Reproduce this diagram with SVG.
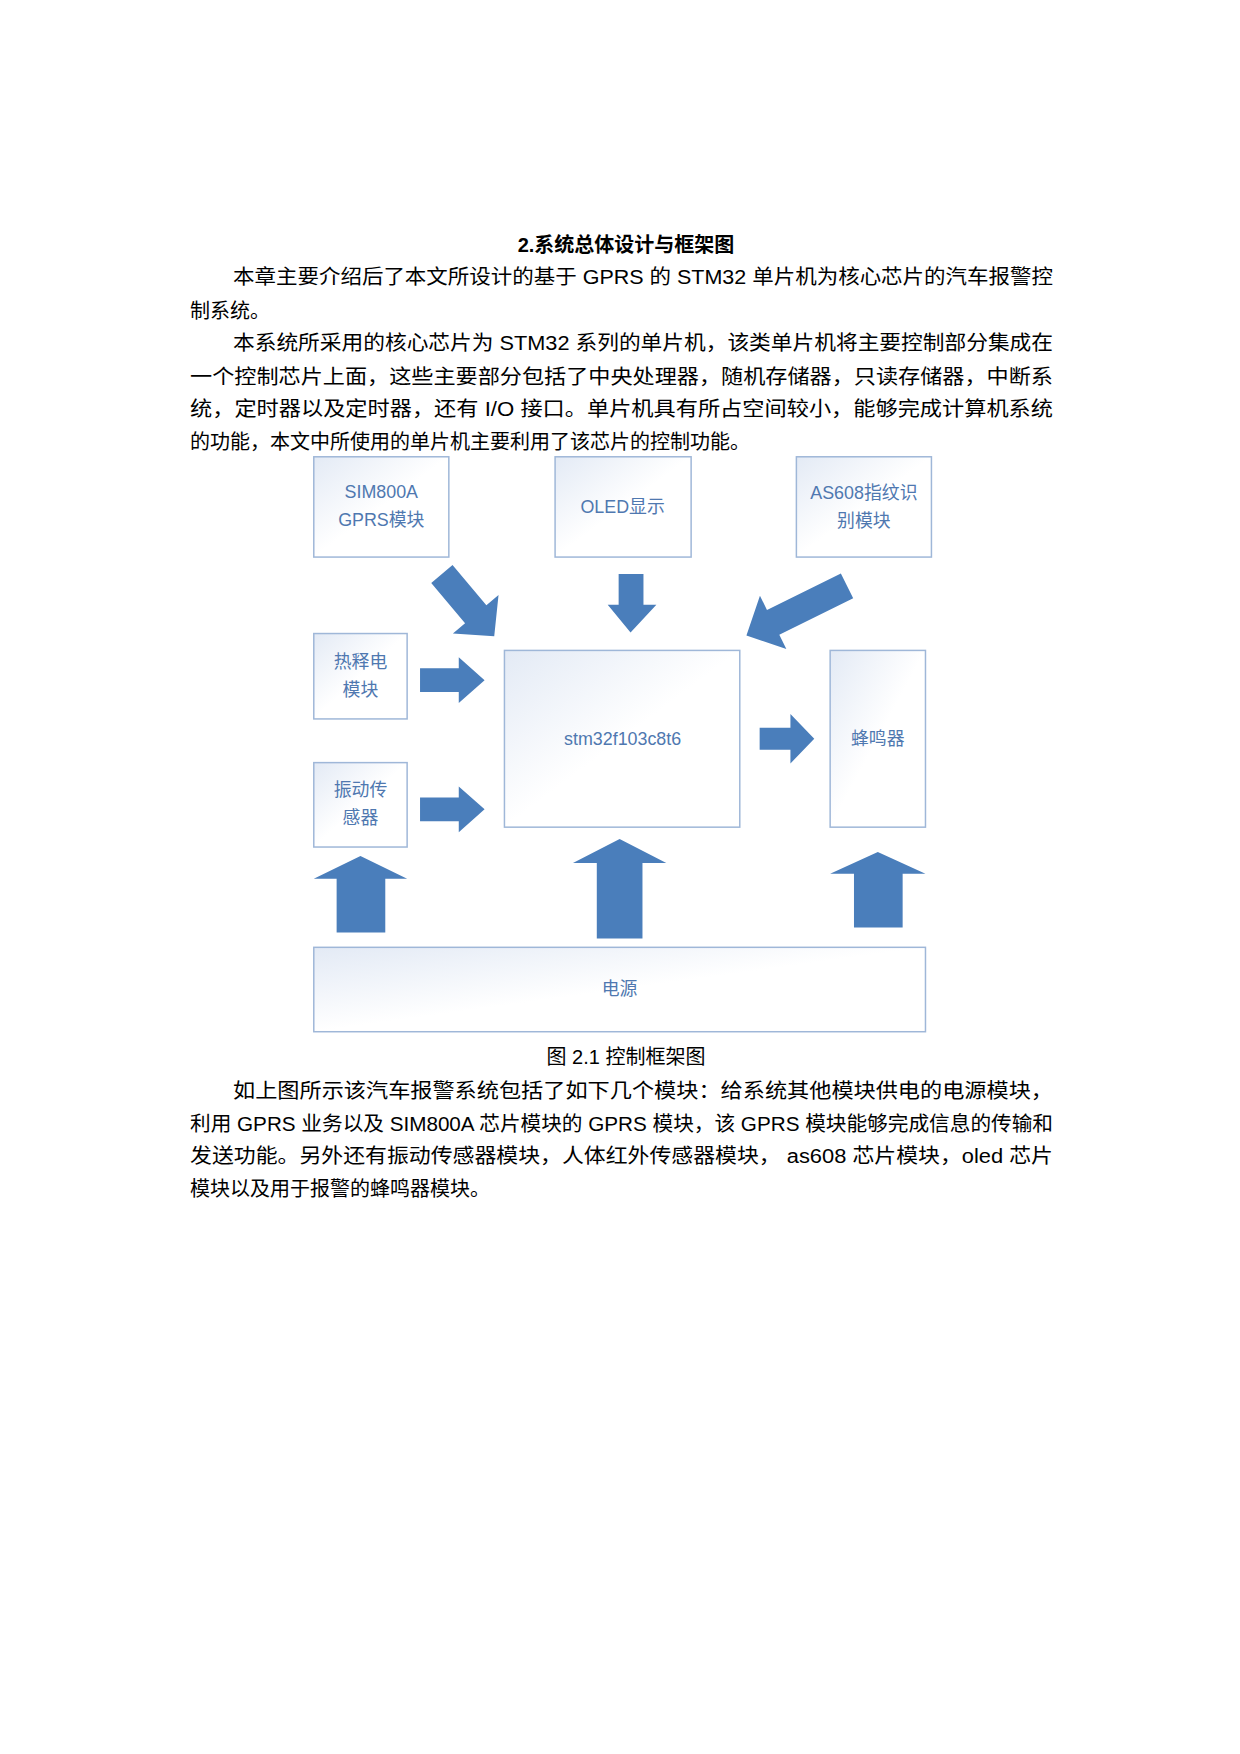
<svg xmlns="http://www.w3.org/2000/svg" width="1240" height="1754" viewBox="0 0 1240 1754">
<defs>
<linearGradient id="g" x1="0" y1="0" x2="1" y2="1"><stop offset="0" stop-color="#e3eaf5"/><stop offset="0.5" stop-color="#ffffff"/><stop offset="1" stop-color="#ffffff"/></linearGradient>
<style>
.t{font-family:"Liberation Sans","Noto Sans CJK SC",sans-serif;font-size:20px;fill:#000}
.b{fill:url(#g);stroke:#9fb7d8;stroke-width:1.5}
.l{font-family:"Liberation Sans","Noto Sans CJK SC",sans-serif;font-size:18px;fill:#4f78b0;text-anchor:middle}
.a{fill:#4a7ebb}
</style>
</defs>
<rect width="1240" height="1754" fill="#fff"/>
<text x="626" y="252" class="t" text-anchor="middle" font-weight="bold">2.系统总体设计与框架图</text>
<g class="t">
<text x="233" y="284" textLength="820" lengthAdjust="spacingAndGlyphs">本章主要介绍后了本文所设计的基于 GPRS 的 STM32 单片机为核心芯片的汽车报警控</text>
<text x="190" y="318">制系统。</text>
<text x="233" y="350" textLength="820" lengthAdjust="spacingAndGlyphs">本系统所采用的核心芯片为 STM32 系列的单片机，该类单片机将主要控制部分集成在</text>
<text x="190" y="384" textLength="863" lengthAdjust="spacingAndGlyphs">一个控制芯片上面，这些主要部分包括了中央处理器，随机存储器，只读存储器，中断系</text>
<text x="190" y="416" textLength="863" lengthAdjust="spacingAndGlyphs">统，定时器以及定时器，还有 I/O 接口。单片机具有所占空间较小，能够完成计算机系统</text>
<text x="190" y="449">的功能，本文中所使用的单片机主要利用了该芯片的控制功能。</text>
<text x="626" y="1064" text-anchor="middle">图 2.1 控制框架图</text>
<text x="233" y="1098" textLength="820" lengthAdjust="spacingAndGlyphs">如上图所示该汽车报警系统包括了如下几个模块：给系统其他模块供电的电源模块，</text>
<text x="190" y="1131" textLength="863" lengthAdjust="spacingAndGlyphs">利用 GPRS 业务以及 SIM800A 芯片模块的 GPRS 模块，该 GPRS 模块能够完成信息的传输和</text>
<text x="190" y="1163" textLength="863" lengthAdjust="spacingAndGlyphs">发送功能。另外还有振动传感器模块，人体红外传感器模块， as608 芯片模块，oled 芯片</text>
<text x="190" y="1196">模块以及用于报警的蜂鸣器模块。</text>
</g>
<g transform="scale(0.993)">
<g id="sim"><rect class="b" x="316" y="460" width="136" height="101"/><text class="l" x="384" y="502">SIM800A</text><text class="l" x="384" y="530">GPRS模块</text></g>
<g id="oled"><rect class="b" x="559" y="460" width="137" height="101"/><text class="l" x="627" y="517">OLED显示</text></g>
<g id="as608"><rect class="b" x="802" y="460" width="136" height="101"/><text class="l" x="870" y="503">AS608指纹识</text><text class="l" x="870" y="531">别模块</text></g>
<g id="pir"><rect class="b" x="316" y="638" width="94" height="86"/><text class="l" x="363" y="673">热释电</text><text class="l" x="363" y="701">模块</text></g>
<g id="vib"><rect class="b" x="316" y="768" width="94" height="85"/><text class="l" x="363" y="802">振动传</text><text class="l" x="363" y="830">感器</text></g>
<g id="mcu"><rect class="b" x="508" y="655" width="237" height="178"/><text class="l" x="627" y="750">stm32f103c8t6</text></g>
<g id="buzzer"><rect class="b" x="836" y="655" width="96" height="178"/><text class="l" x="884" y="750">蜂鸣器</text></g>
<g id="power"><rect class="b" x="316" y="954" width="616" height="85"/><text class="l" x="624" y="1002">电源</text></g>
<g id="connectors">
<polygon class="a" transform="translate(445,578) rotate(50)" points="0,-14 53,-14 53,-30 82,0 53,30 53,14 0,14"/>
<polygon class="a" points="623,578 648,578 648,609 661,609 635,637 612,609 623,609"/>
<polygon class="a" transform="translate(853,590) rotate(153.7)" points="0,-14 83,-14 83,-30 113,0 83,30 83,14 0,14"/>
<polygon class="a" points="423,673 462,673 462,662 488,685 462,708 462,697 423,697"/>
<polygon class="a" points="423,803 462,803 462,792 488,815 462,838 462,827 423,827"/>
<polygon class="a" points="765,733 796,733 796,719 820,744 796,769 796,755 765,755"/>
<polygon class="a" points="339,939 388,939 388,885 410,885 363,862 316,885 339,885"/>
<polygon class="a" points="601,945 647,945 647,869 671,869 624,845 577,869 601,869"/>
<polygon class="a" points="860,934 909,934 909,880 932,880 884,858 836,880 860,880"/>
</g>
</g>
</svg>
